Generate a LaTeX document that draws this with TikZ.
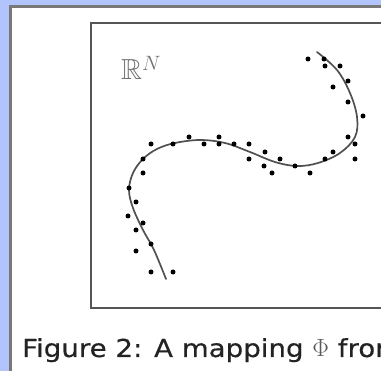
\documentclass[tikz,border=0pt]{standalone}
\usepackage{amsmath,amssymb}
\usepackage{fontspec}
\newfontfamily\captionfont[FakeStretch=1.12,FakeBold=0.4]{DejaVu Sans}
\usetikzlibrary{positioning}

\definecolor{pageblue}{RGB}{178,196,252}
\definecolor{panelgray}{RGB}{120,120,120}
\definecolor{framegray}{RGB}{85,85,85}
\definecolor{curvegray}{RGB}{80,80,80}
\definecolor{captiontext}{RGB}{35,35,35}

\begin{document}
\begin{tikzpicture}[x=1pt,y=-1pt,
  sample/.style={fill=black},
  manifold/.style={curvegray,line width=1.7pt,line cap=round}]
  \useasboundingbox (0,0) rectangle (381,371);
  \clip (0,0) rectangle (381,371);

  % Page and panel
  \fill[pageblue] (0,0) rectangle (381,371);
  \fill[white] (9,6) rectangle (420,420);
  \draw[panelgray,line width=3pt] (10,420) -- (10,7) -- (420,7);

  % Frame of the space
  \draw[framegray,line width=2pt] (91,23.5) rectangle (430,308.5);
  \node[anchor=base west,inner sep=0,text=gray!90!black,font=\fontsize{29}{34}\selectfont]
    (space) at (121,80) {$\mathbb{R}^N$};

  % Manifold
  \draw[manifold] plot[smooth,tension=0.6] coordinates {
    (317,52) (337,70) (350,93) (357,117) (355,137) (340,153) (318,163)
    (297,166) (275,162) (250,152) (225,143) (200,140) (175,143) (157,149)
    (143,159) (133,173) (129,190) (133,208) (143,230) (154,250) (166,279)};

  % Noisy samples
  \foreach \px/\py in {308/59,324/59,325/66,340/66,348/81,333/87,348/102,
      363/116,348/137,355/144,333/152,325/159,355/159,310/173,295/166,
      280/159,272/173,265/152,264/166,249/144,249/159,234/144,219/137,
      219/144,204/144,189/137,173/144,151/144,143/159,143/173,129/188,
      136/202,128/216,143/223,136/230,151/244,136/251,151/272,173/272}
    \fill[sample] (\px,\py) circle (2.5pt);

  % Caption
  \node[anchor=base west,inner sep=0,text=captiontext,
    font=\captionfont\fontsize{24.7}{30}\selectfont]
    (caption) at (22,357) {Figure 2: A mapping {\color{gray!70!black}$\Phi$} from};
\end{tikzpicture}
\end{document}
